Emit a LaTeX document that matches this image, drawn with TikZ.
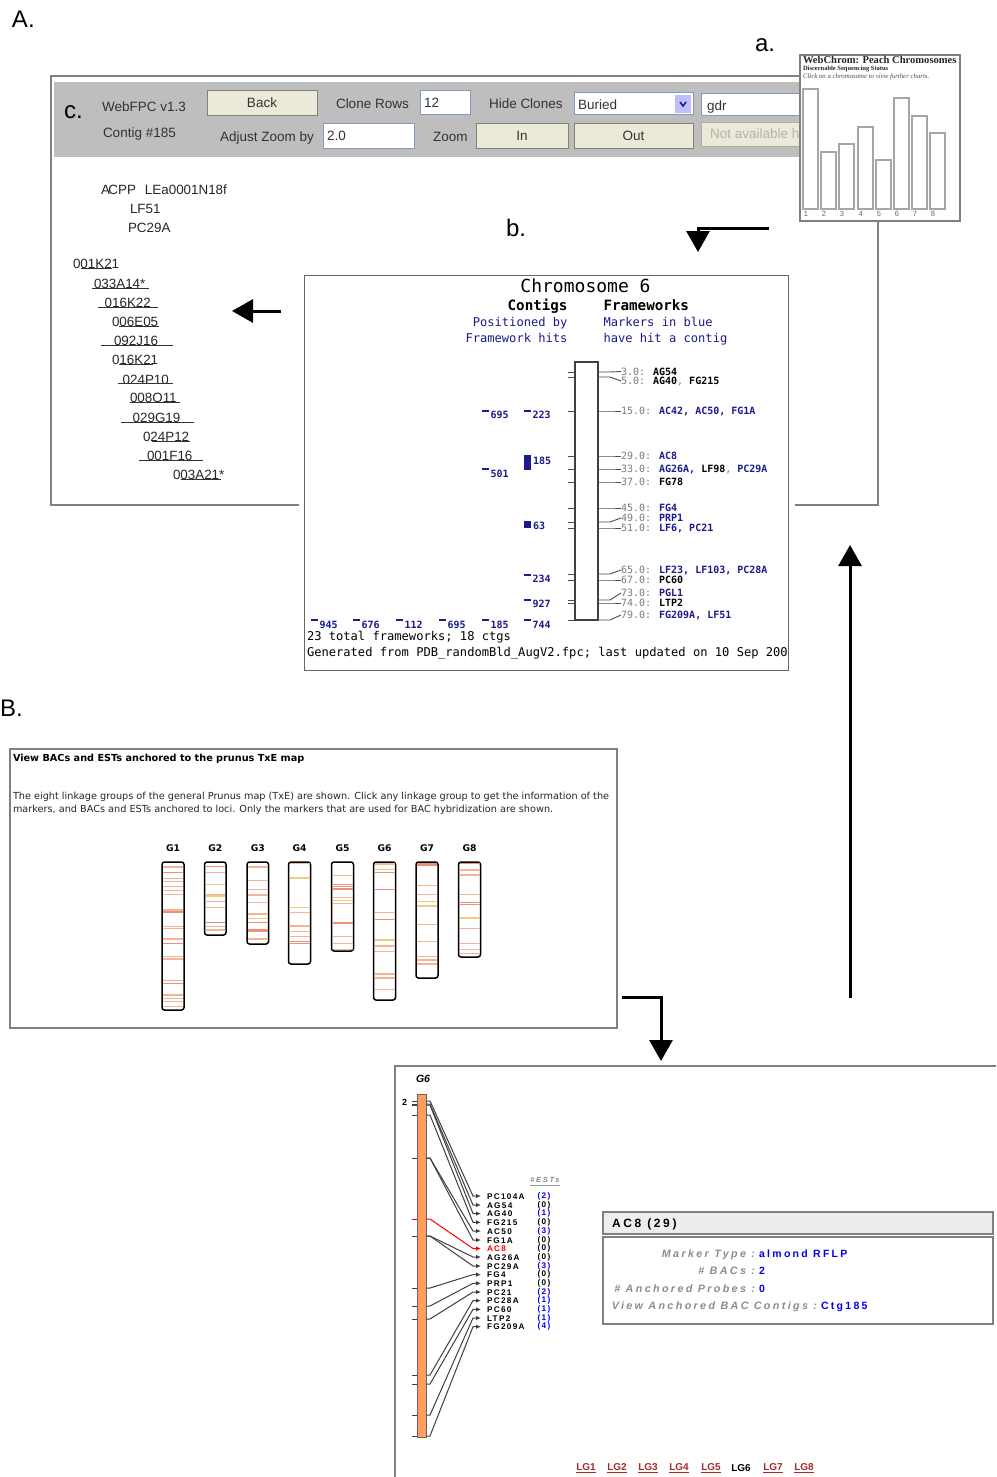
\documentclass[tikz,border=0pt]{standalone}
\usepackage{fontspec}
\setmainfont{Liberation Sans}
\newfontfamily\monof{DejaVu Sans Mono}
\newfontfamily\serf{Liberation Serif}
\newfontfamily\vera{DejaVu Sans}
\newfontfamily\trk[LetterSpace=16]{Liberation Sans}
\newfontfamily\trkb[LetterSpace=22]{Liberation Sans}
\usetikzlibrary{arrows.meta}
\definecolor{fr}{HTML}{808080}
\definecolor{hdr}{HTML}{BEBEBE}
\definecolor{btn}{HTML}{ECE9D8}
\definecolor{inp}{HTML}{7F9DB9}
\definecolor{nav}{HTML}{1A1A8C}
\definecolor{gt}{HTML}{7A7A7A}
\definecolor{stA}{HTML}{F5B498}
\definecolor{stB}{HTML}{EE8F78}
\definecolor{stC}{HTML}{F0CC80}
\definecolor{org}{HTML}{FF9E5E}
\definecolor{lnk}{HTML}{A52A2A}
\definecolor{bluel}{HTML}{0000F0}
\newcommand{\fs}[1]{\fontsize{#1}{#1}\selectfont}
\newcommand{\gr}[1]{\textcolor{gt}{\mdseries #1}}
\newcommand{\bl}[1]{\textcolor{nav}{#1}}
\tikzset{
 every node/.style={outer sep=0pt},
 txt/.style={inner sep=0pt,outer sep=0pt,anchor=west},
 big/.style={txt,font=\fs{24},text height=17pt,text depth=0pt},
 ui/.style={txt,font=\fs{13.5},text=black!80,text height=9.8pt,text depth=0pt},
 clone/.style={txt,font=\fs{13.4},text=black!85,text height=9.6pt,text depth=0pt,yshift=-0.7pt},
 btnbox/.style={fill=btn,draw=btn!55!black,line width=0.8pt,minimum height=25pt,inner sep=0pt,font=\fs{13.5},text=black!80},
 inpbox/.style={fill=white,draw=inp,line width=1pt,inner sep=0pt},
 panel/.style={draw=fr,line width=2pt},
 thick arrow/.style={line width=3pt,-{Triangle[length=21pt,width=23pt]}},
 mono/.style={txt,font=\monof\bfseries\fs{10},text height=7.3pt,text depth=0pt},
 monoh/.style={txt,font=\monof\fs{12.1},text height=9pt,text depth=0pt},
 monohr/.style={monoh,anchor=east,text=nav},
 ctg/.style={txt,font=\monof\bfseries\fs{10},text=nav,text height=7.3pt,text depth=0pt},
 chromline/.style={draw=black!70,line width=0.9pt},
 lg/.style={draw=black,line width=1.5pt,rounded corners=2.5pt,fill=white},
 lab/.style={inner sep=0pt,font=\vera\bfseries\fs{9.2}},
 mk/.style={txt,font=\trk\bfseries\fs{8.2},text height=6pt,text depth=0pt},
 cnt/.style={inner sep=0pt,font=\trk\bfseries\fs{8.2}},
 arr/.style={line width=1pt,-{Latex[length=5pt,width=4.5pt]}},
 key/.style={inner sep=0pt,anchor=east,font=\trkb\bfseries\itshape\fs{10.75},text=black!45,text height=7.6pt,text depth=0pt},
 val/.style={txt,font=\trkb\bfseries\fs{10.5},text=bluel,text height=7.6pt,text depth=0pt},
 lgl/.style={inner sep=0pt,font=\bfseries\fs{10},text=lnk},
 infobox/.style={draw=black!50,line width=1.1pt,minimum width=390pt,inner sep=0pt,anchor=north west},
}
\begin{document}
\begin{tikzpicture}[x=1pt,y=-1pt]
\useasboundingbox (0,0) rectangle (996,1477);
\fill[white] (0,0) rectangle (996,1477);
% panel labels
\node[big] (lA) at (12,19) {A.};
\node[big] (la) at (755,43.5) {a.};
\node[big] (lb) at (506,228) {b.};
\node[big] (lB) at (0,708) {B.};
% panel c
\draw[panel] (299,505) -- (51,505) -- (51,76) -- (800,76);
\draw[panel] (795,505) -- (878,505) -- (878,221);
\fill[hdr] (54,82) rectangle (800,157);
\node[big] (lc) at (64,109.5) {c.};
\node[ui] (webfpc) at (102,107) {WebFPC v1.3};
\node[ui] (contig) at (103,133) {Contig \#185};
\node[btnbox,minimum width=110pt] (back) at (262,103) {Back};
\node[ui] (rows) at (336,103.5) {Clone Rows};
\node[inpbox,minimum width=50pt,minimum height=24pt] (in12) at (445,103) {};
\node[ui] (v12) at (424,103) {12};
\node[ui] (hide) at (489,104) {Hide Clones};
\node[inpbox,minimum width=119pt,minimum height=22pt] (sel) at (633.5,104) {};
\node[ui] (buried) at (578,105) {Buried};
\fill[blue!25] (675,95) rectangle (691,113);
\draw[line width=1.6pt,nav] (680,102) -- (683,106) -- (686,102);
\node[inpbox,minimum width=100pt,minimum height=22pt] (gdrb) at (751,105) {};
\node[ui] (gdr) at (707,106) {gdr};
\node[ui] (adj) at (220,136.5) {Adjust Zoom by};
\node[inpbox,minimum width=91pt,minimum height=24pt] (in2) at (368.5,136) {};
\node[ui] (v2) at (327,136) {2.0};
\node[ui] (zoom) at (433,136.5) {Zoom};
\node[btnbox,minimum width=92pt] (inb) at (522,135.5) {In};
\node[btnbox,minimum width=119pt] (outb) at (633.5,135.5) {Out};
\node[fill=btn,draw=btn!75!black,line width=0.8pt,minimum width=100pt,minimum height=24pt,inner sep=0pt] (nab) at (751,134) {};
\node[ui,text=black!30] (nat) at (710,134) {Not available h};
% clone list
\node[clone] (c1) at (101,189) {A\kern-1.5pt CPP\kern 9pt LEa0001N18f};
\node[clone] (c2) at (130,208) {LF51};
\node[clone] (c3) at (128,227) {PC29A};
\foreach \i/\t/\x/\y/\ua/\ub in {1/001K21/73/263/81/112,2/033A14*/94/283/92/148.5,3/016K22/104.7/302/98/158,4/006E05/112/321/119/159,5/092J16/114/340/100.7/173,6/016K21/112/359/119/153,7/024P10/122.7/378.5/118/173,8/008O11/130/397/130/180,9/029G19/132.7/417/120.7/194,10/024P12/143/436/152/190,11/001F16/147/455/138.7/203,12/003A21*/173/474/180.7/221}{
 \node[clone] (cl\i) at (\x,\y) {\t};
 \draw[black!80,line width=0.9pt] (\ua,\y+5.3) -- (\ub,\y+5.3);
}
% panel a
\node[draw=fr,line width=2.2pt,fill=white,minimum width=160pt,minimum height=166pt,inner sep=0pt,anchor=north west] (pa) at (800,55) {};
\node[txt,font=\serf\bfseries\fs{10.55},text=black!85] (wc) at (803,60) {WebChrom: Peach Chromosomes};
\node[txt,font=\serf\bfseries\fs{6.5},text=black!85] (wc2) at (803,69) {Discernable Sequencing Status};
\node[txt,font=\serf\itshape\fs{6.8},text=black!70] (wc3) at (803,76.5) {Click on a chromosome to view further charts.};
\foreach \i/\xa/\t in {1/803/89,2/821/152,3/839/144,4/858/127,5/876/160,6/894/98,7/912/116,8/930/133}{
 \draw[black!35,line width=1.1pt,fill=white] (\xa,\t) rectangle (\xa+15,209);
 \node[inner sep=0pt,font=\fs{7.5},text=black!60] (wn\i) at (\xa+3,214) {\i};
}
% panel b
\node[draw=black!60,line width=1pt,fill=white,minimum width=484pt,minimum height=395pt,inner sep=0pt,anchor=north west] (pb) at (304,275) {};
\node[inner sep=0pt,font=\monof\fs{18},text height=13pt,text depth=0pt] (chr) at (585.5,286) {Chromosome 6};
\node[inner sep=0pt,anchor=east,font=\monof\bfseries\fs{14.2},text height=10.5pt,text depth=0pt] (cg) at (567.5,305.5) {Contigs};
\node[monoh,font=\monof\bfseries\fs{14.2},text height=10.5pt] (fw) at (603.5,305.5) {Frameworks};
\node[monohr] (pos) at (567.5,321.5) {Positioned by};
\node[monohr] (fh) at (567.5,337.5) {Framework hits};
\node[monoh,text=nav] (mi) at (603.5,321.5) {Markers in blue};
\node[monoh,text=nav] (hh) at (603.5,337.5) {have hit a contig};
\draw[line width=1.2pt,draw=black!75,fill=white] (575,362) rectangle (598,620);
\foreach \i/\ty/\ly/\lb in {
 1/372/371.5/{\gr{3.0:} AG54},
 2/377/381/{\gr{5.0:} AG40\gr{,} FG215},
 3/411/411/{\gr{15.0:} \bl{AC42, AC50, FG1A}},
 4/456/456/{\gr{29.0:} \bl{AC8}},
 5/469/469/{\gr{33.0:} \bl{AG26A,} LF98\gr{,} \bl{PC29A}},
 6/482/482/{\gr{37.0:} FG78},
 7/508/508/{\gr{45.0:} \bl{FG4}},
 8/522/518/{\gr{49.0:} \bl{PRP1}},
 9/528/528/{\gr{51.0:} \bl{LF6, PC21}},
 10/574/570/{\gr{65.0:} \bl{LF23, LF103, PC28A}},
 11/580/580/{\gr{67.0:} PC60},
 12/600/593/{\gr{73.0:} \bl{PGL1}},
 13/603/603/{\gr{74.0:} LTP2},
 14/620/615/{\gr{79.0:} \bl{FG209A, LF51}}}{
 \draw[chromline] (568,\ty) -- (575,\ty);
 \node[mono] (m\i) at (621,\ly) {\lb};
 \draw[chromline] (598,\ty) -- (610,\ty) -- (m\i.west);
}
\foreach \i/\xa/\dy/\ty/\t in {1/482/411/415/695,2/524/411/415/223,3/482/469/473.5/501,4/524/574.5/578.5/234,5/524/600/604/927,6/311/620/625/945,7/353/620/625/676,8/396/620/625/112,9/439/620/625/695,10/482/620/625/185,11/524/620/625/744}{
 \fill[nav] (\xa,\dy-1) rectangle (\xa+7,\dy+1);
 \node[ctg] (k\i) at (\xa+8.5,\ty) {\t};
}
\fill[nav] (524,455) rectangle (531,470);
\node[ctg] (k185) at (533,460.5) {185};
\fill[nav] (524,521) rectangle (531,528);
\node[ctg] (k63) at (533,525.5) {63};
\node[monoh] (tot) at (307,636) {23 total frameworks; 18 ctgs};
\node[monoh] (gen) at (307,652) {Generated from PDB\_randomBld\_AugV2.fpc; last updated on 10 Sep 200};
% panel B
\node[draw=fr,line width=2pt,minimum width=607pt,minimum height=279pt,inner sep=0pt,anchor=north west] (pB) at (10,749) {};
\node[txt,font=\vera\bfseries\fs{9.7}] (bt) at (13,758.5) {View BACs and ESTs anchored to the prunus TxE map};
\node[txt,font=\vera\fs{9.7},text=black!85] (b1) at (13,797) {The eight linkage groups of the general Prunus map (TxE) are shown. Click any linkage group to get the information of the};
\node[txt,font=\vera\fs{9.7},text=black!85] (b2) at (13,809.5) {markers, and BACs and ESTs anchored to loci. Only the markers that are used for BAC hybridization are shown.};
\foreach \i/\xa/\xb/\yb/\sA/\sB in {
 1/162/184/1010/{381,415,424,440,452,463,510,560,566,597,650,657,722,765,775,785,800}/{398,516,610,730},
 2/204.5/226/935/{397,464,484,503,560,570}/{380,548},
 3/247/268.5/944/{381,421,449,465,487,522,597}/{548,568,573},
 4/288.5/310.5/964/{370,518,558,574,590}/{604,610},
 5/331.5/353.5/951/{407,472,490,590,610,628}/{434,440,447,549},
 6/373.5/395.5/1000/{372,518,618,634,702,714,748}/{397,448,538},
 7/416/438/978/{436,463,553,604,650,660,672}/{372,377},
 8/458.5/480.5/957/{390,405,464,534,566,610,628,640}/{370,487,494}}{
 \node[lab] (g\i) at ({(\xa+\xb)/2},848) {G\i};
 \draw[lg] (\xa,862) rectangle (\xb,\yb);
 \foreach \z in \sA { \draw[stA,line width=1.1pt] (\xa+1,{740+\z/3}) -- (\xb-1,{740+\z/3}); }
 \foreach \z in \sB { \draw[stB,line width=1.2pt] (\xa+1,{740+\z/3}) -- (\xb-1,{740+\z/3}); }
}
\foreach \xa/\xb/\z in {204.5/226/434,204.5/226/468,373.5/395.5/388,373.5/395.5/600,288.5/310.5/414,288.5/310.5/503,331.5/353.5/482,247/268.5/535,458.5/480.5/534,416/438/485,416/438/498}{
 \draw[stC,line width=1.1pt] (\xa+1,{740+\z/3}) -- (\xb-1,{740+\z/3});
}
% panel G6
\draw[panel] (996,1066) -- (395,1066) -- (395,1477);
\node[inner sep=0pt,font=\bfseries\itshape\fs{10.5}] (g6t) at (423,1079) {G6};
\node[inner sep=0pt,font=\bfseries\fs{9}] (g6two) at (404.5,1102) {2};
\node[draw=black!60,line width=0.9pt,fill=org,minimum width=9pt,minimum height=343pt,inner sep=0pt,anchor=north west] (g6bar) at (417,1094) {};
\foreach \i/\ty/\ly/\c/\lb/\n/\cc in {
 1/1101/1196/black!75/PC104A/2/bluel,
 2/1104/1205/black!75/AG54/0/black,
 3/1105/1213.6/black!75/AG40/1/bluel,
 4/1115/1222.3/black!75/FG215/0/black,
 5/1158/1231/black!75/AC50/3/bluel,
 6/1158/1240/black!75/FG1A/0/black,
 7/1219/1248.5/red/AC8/0/black,
 8/1236/1257/black!75/AG26A/0/black,
 9/1236/1266/black!75/PC29A/3/bluel,
 10/1288/1274.6/black!75/FG4/0/black,
 11/1306/1283.3/black!75/PRP1/0/black,
 12/1319/1292/black!75/PC21/2/bluel,
 13/1375/1300.6/black!75/PC28A/1/bluel,
 14/1384/1309.4/black!75/PC60/1/bluel,
 15/1415/1318/black!75/LTP2/1/bluel,
 16/1436/1326.7/black!75/FG209A/4/bluel}{
 \ifnum\i=7 \node[mk,text=red] (gm\i) at (487,\ly) {\lb};
 \else \node[mk] (gm\i) at (487,\ly) {\lb}; \fi
 \node[cnt,text=\cc] (gc\i) at (544,\ly) {(\n)};
 \coordinate (gs\i) at (430,\ty);
 \coordinate (gk\i) at (473,\ly);
 \draw[\c,line width=1pt] (412,\ty) -- (417,\ty);
 \draw[arr,draw=\c] (426,\ty) -- (gs\i) -- (gk\i) -- (481,\ly);
}
\node[inner sep=0pt,font=\trkb\bfseries\itshape\fs{7.5},text=black!45] (ests) at (545,1179.5) {\#ESTs};
\draw[black!40,line width=0.8pt] (530,1185) -- (560,1185);
% AC8 info
\node[infobox,fill=black!7,minimum height=22pt] (ti) at (603,1212) {};
\node[txt,font=\trkb\bfseries\fs{12}] (tit) at (612,1224) {AC8 (29)};
\node[infobox,minimum height=87pt] (inf) at (603,1237) {};
\node[key] (k1a) at (755,1254) {Marker Type :};
\node[val] (k1b) at (759,1254) {almond RFLP};
\node[key] (k2a) at (755,1271) {\# BACs :};
\node[val] (k2b) at (759,1271) {2};
\node[key] (k3a) at (755,1288.5) {\# Anchored Probes :};
\node[val] (k3b) at (759,1288.5) {0};
\node[key] (k4a) at (817,1306) {View Anchored BAC Contigs :};
\node[val] (k4b) at (821,1306) {Ctg185};
% LG links
\foreach \i/\x in {1/586,2/617,3/648,4/679,5/711,7/773,8/804}{
 \node[lgl] (lg\i) at (\x,1468) {\underline{LG\i}};
}
\node[lgl,text=black] (lg6) at (741,1468) {LG6};
% arrows
\coordinate (a1s) at (769,228); \coordinate (a1c) at (698,228); \coordinate (a1e) at (698,252);
\draw[thick arrow] (a1s) -- (a1c) -- (a1e);
\coordinate (a2s) at (281,311); \coordinate (a2e) at (232,311);
\draw[thick arrow] (a2s) -- (a2e);
\coordinate (a3s) at (850,998); \coordinate (a3e) at (850,545);
\draw[thick arrow] (a3s) -- (a3e);
\coordinate (a4s) at (622,997); \coordinate (a4c) at (661,997); \coordinate (a4e) at (661,1061);
\draw[thick arrow] (a4s) -- (a4c) -- (a4e);
\end{tikzpicture}
\end{document}
